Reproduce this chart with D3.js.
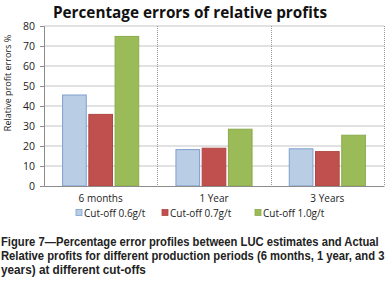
<!DOCTYPE html>
<html>
<head>
<meta charset="utf-8">
<script src="https://cdn.jsdelivr.net/npm/d3@7"></script>
<style>
  body { margin: 0; background: #fff; }
  svg { display: block; }
</style>
</head>
<body>
<div id="chart"></div>
<script>
// data
var periods = ["6 months", "1 Year", "3 Years"];
var seriesNames = ["Cut-off 0.6g/t", "Cut-off 0.7g/t", "Cut-off 1.0g/t"];
var cutoff06 = [45.5, 18.2, 18.6];
var cutoff07 = [35.8, 18.9, 17.2];
var cutoff10 = [74.8, 28.4, 25.4];
var yTicks = [0, 10, 20, 30, 40, 50, 60, 70, 80];
var captionLines = [
  "Figure 7\u2014Percentage error profiles between LUC estimates and Actual",
  "Relative profits for different production periods (6 months, 1 year, and 3",
  "years) at different cut-offs"
];
var captionWidths = [378, 384, 145];

var fills = ["#b9cde5", "#c0504d", "#9bbb59"];
var strokes = ["#7f9fcf", "#b04643", "#8aab4c"];

var width = 388, height = 291;
var margin = {top: 26, right: 4, bottom: 105, left: 44};
var innerW = width - margin.left - margin.right,
    innerH = height - margin.top - margin.bottom;

var svg = d3.select("#chart").append("svg")
    .attr("width", width)
    .attr("height", height);

var g = svg.append("g")
    .attr("transform", "translate(" + margin.left + "," + margin.top + ")");

var x = d3.scaleBand()
    .domain(periods)
    .range([0, innerW]);

var x1 = d3.scaleBand()
    .domain(seriesNames)
    .range([0, x.bandwidth()])
    .paddingInner(0.06)
    .paddingOuter(0.69);

var y = d3.scaleLinear()
    .domain([0, 80])
    .range([innerH, 0]);

// horizontal grid
g.append("g")
  .selectAll("line")
  .data(yTicks.slice(1))
  .enter().append("line")
    .attr("x1", 0).attr("x2", innerW)
    .attr("y1", function(d) { return y(d); })
    .attr("y2", function(d) { return y(d); })
    .attr("stroke", "#c4c4c4")
    .attr("stroke-width", 1);

// dotted vertical separators
g.append("g")
  .selectAll("line")
  .data(periods)
  .enter().append("line")
    .attr("x1", function(d) { return Math.round(x(d) + x.bandwidth()) + 0.5; })
    .attr("x2", function(d) { return Math.round(x(d) + x.bandwidth()) + 0.5; })
    .attr("y1", 0).attr("y2", innerH)
    .attr("stroke", "#9a9a9a")
    .attr("stroke-dasharray", "1,1");

// bars
var rows = periods.map(function(p, i) {
  return {period: p, values: [cutoff06[i], cutoff07[i], cutoff10[i]]};
});

g.append("g")
  .selectAll("g")
  .data(rows)
  .enter().append("g")
    .attr("transform", function(d) { return "translate(" + x(d.period) + ",0)"; })
  .selectAll("rect")
  .data(function(d) { return d.values.map(function(v, j) { return {name: seriesNames[j], v: v, j: j}; }); })
  .enter().append("rect")
    .attr("x", function(d) { return x1(d.name) + 0.5; })
    .attr("width", x1.bandwidth() - 1)
    .attr("y", function(d) { return y(d.v); })
    .attr("height", function(d) { return innerH - y(d.v); })
    .attr("fill", function(d) { return fills[d.j]; })
    .attr("stroke", function(d) { return strokes[d.j]; })
    .attr("stroke-width", 1);

// y axis
var yAxis = g.append("g")
    .call(d3.axisLeft(y).tickValues(yTicks).tickSize(4).tickPadding(5));
yAxis.select(".domain").attr("stroke", "#8c8c8c");
yAxis.selectAll(".tick line").attr("stroke", "#8c8c8c");
yAxis.selectAll("text")
    .style("font-family", "'Open Sans', sans-serif")
    .style("font-size", "10.5px")
    .attr("fill", "#222");

// x axis
var xAxis = g.append("g")
    .attr("transform", "translate(0," + innerH + ")")
    .call(d3.axisBottom(x).tickSize(0).tickPadding(9));
xAxis.select(".domain").attr("stroke", "#8c8c8c");
xAxis.selectAll("text")
    .style("font-family", "'Open Sans', sans-serif")
    .style("font-size", "10px")
    .attr("fill", "#222");

// y axis title
svg.append("text")
    .attr("transform", "translate(8,83) rotate(-90)")
    .attr("text-anchor", "middle")
    .attr("dy", "0.35em")
    .style("font-family", "'Open Sans', sans-serif")
    .style("font-size", "9px")
    .attr("fill", "#222")
    .text("Relative profit errors %");

// title
svg.append("text")
    .attr("x", 190)
    .attr("y", 18)
    .attr("text-anchor", "middle")
    .style("font-family", "'Open Sans', sans-serif")
    .style("font-weight", "bold")
    .style("font-size", "15.3px")
    .attr("fill", "#111")
    .text("Percentage errors of relative profits");

// legend
var legendX = [76, 162, 255];
var legend = svg.append("g")
  .selectAll("g")
  .data(seriesNames)
  .enter().append("g")
    .attr("transform", function(d, i) { return "translate(" + legendX[i] + ",213)"; });
legend.append("rect")
    .attr("x", 0).attr("y", -3.5)
    .attr("width", 6).attr("height", 6)
    .attr("fill", function(d, i) { return fills[i]; })
    .attr("stroke", function(d, i) { return strokes[i]; })
    .attr("stroke-width", 0.8);
legend.append("text")
    .attr("x", 8)
    .attr("dy", "0.35em")
    .style("font-family", "'Open Sans', sans-serif")
    .style("font-size", "10px")
    .attr("fill", "#222")
    .text(function(d) { return d; });

// caption: squeeze each line horizontally to the width it has in the figure
svg.append("g")
  .selectAll("text")
  .data(captionLines)
  .enter().append("text")
    .style("font-family", "'Liberation Sans', Arial, sans-serif")
    .style("font-weight", "bold")
    .style("font-size", "12.5px")
    .attr("fill", "#222")
    .text(function(d) { return d; })
    .attr("transform", function(d, i) {
      var sx = captionWidths[i] / this.getComputedTextLength();
      return "translate(1," + (246 + i * 14) + ") scale(" + sx + ",1)";
    });
</script>
</body>
</html>
